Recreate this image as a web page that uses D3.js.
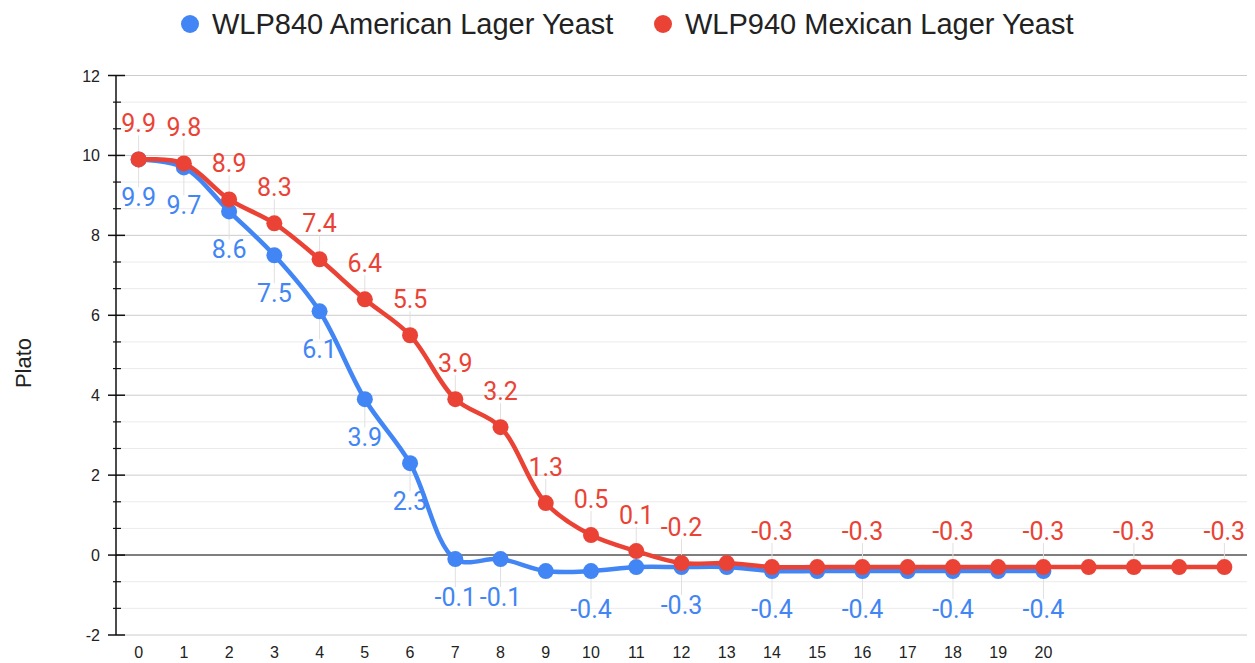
<!DOCTYPE html>
<html>
<head>
<meta charset="utf-8">
<script src="https://cdn.jsdelivr.net/npm/d3@7"></script>
<style>
  body { margin: 0; background: #fff; }
</style>
</head>
<body>
<script>
var days = d3.range(0, 25);
var blueName = 'WLP840 American Lager Yeast';
var redName = 'WLP940 Mexican Lager Yeast';
var blueValues = [9.9, 9.7, 8.6, 7.5, 6.1, 3.9, 2.3, -0.1, -0.1, -0.4, -0.4, -0.3, -0.3, -0.3,
                  -0.4, -0.4, -0.4, -0.4, -0.4, -0.4, -0.4];
var redValues = [9.9, 9.8, 8.9, 8.3, 7.4, 6.4, 5.5, 3.9, 3.2, 1.3, 0.5, 0.1, -0.2, -0.2,
                 -0.3, -0.3, -0.3, -0.3, -0.3, -0.3, -0.3, -0.3, -0.3, -0.3, -0.3];
// which points carry a value label
var blueLabelIdx = [0, 1, 2, 3, 4, 5, 6, 7, 8, 10, 12, 14, 16, 18, 20];
var redLabelIdx = [0, 1, 2, 3, 4, 5, 6, 7, 8, 9, 10, 11, 12, 14, 16, 18, 20, 22, 24];
var xTickLabels = d3.range(0, 21);
var yMajorTicks = [-2, 0, 2, 4, 6, 8, 10, 12];

var blueColor = '#4285F4', redColor = '#EA4335';
var sans = '"Liberation Sans", Arial, sans-serif';
var labelFont = 'Roboto, sans-serif';

var width = 1255, height = 663;

var svg = d3.select('body').append('svg')
    .attr('width', width)
    .attr('height', height);

var x = d3.scaleLinear().domain([-0.5, 24.5]).range([116, 1247]);
var y = d3.scaleLinear().domain([-2, 12]).range([635, 75.5]);

var yMinorTicks = [];
yMajorTicks.slice(0, -1).forEach(function(t) {
  yMinorTicks.push(t + 2 / 3, t + 4 / 3);
});

// gridlines
var grid = svg.append('g').attr('class', 'grid');
grid.selectAll('line.minor')
    .data(yMinorTicks)
  .enter().append('line')
    .attr('class', 'minor')
    .attr('x1', x.range()[0]).attr('x2', x.range()[1])
    .attr('y1', y).attr('y2', y)
    .attr('stroke', '#ebebeb').attr('stroke-width', 1);
grid.selectAll('line.major')
    .data(yMajorTicks)
  .enter().append('line')
    .attr('class', 'major')
    .attr('x1', x.range()[0]).attr('x2', x.range()[1])
    .attr('y1', y).attr('y2', y)
    .attr('stroke', function(d) { return d === 0 ? '#555' : '#cccccc'; })
    .attr('stroke-width', function(d) { return d === 0 ? 1.5 : 1; });

// y axis
var yAxis = svg.append('g').attr('class', 'y-axis');
yAxis.append('line')
    .attr('x1', 116).attr('x2', 116)
    .attr('y1', y(12)).attr('y2', y(-2))
    .attr('stroke', '#111').attr('stroke-width', 1.5);
yAxis.selectAll('line.tick-major')
    .data(yMajorTicks)
  .enter().append('line')
    .attr('class', 'tick-major')
    .attr('x1', 108).attr('x2', 125)
    .attr('y1', y).attr('y2', y)
    .attr('stroke', '#111').attr('stroke-width', 1.5);
yAxis.selectAll('line.tick-minor')
    .data(yMinorTicks)
  .enter().append('line')
    .attr('class', 'tick-minor')
    .attr('x1', 113).attr('x2', 121)
    .attr('y1', y).attr('y2', y)
    .attr('stroke', '#111').attr('stroke-width', 1.2);
yAxis.selectAll('text')
    .data(yMajorTicks)
  .enter().append('text')
    .attr('x', 100)
    .attr('y', function(d) { return y(d) + 6; })
    .attr('text-anchor', 'end')
    .style('font-family', sans)
    .attr('font-size', 16)
    .attr('fill', '#222')
    .text(function(d) { return d; });

svg.append('text')
    .attr('transform', 'translate(31,363) rotate(-90)')
    .attr('text-anchor', 'middle')
    .style('font-family', sans)
    .attr('font-size', 22)
    .attr('fill', '#222')
    .text('Plato');

// x tick labels
svg.append('g').selectAll('text')
    .data(xTickLabels)
  .enter().append('text')
    .attr('x', x)
    .attr('y', 658)
    .attr('text-anchor', 'middle')
    .style('font-family', sans)
    .attr('font-size', 16)
    .attr('fill', '#222')
    .text(function(d) { return d; });

// label stems
var stems = svg.append('g').attr('class', 'stems');
stems.selectAll('line.red')
    .data(redLabelIdx)
  .enter().append('line')
    .attr('x1', function(i) { return x(i); }).attr('x2', function(i) { return x(i); })
    .attr('y1', function(i) { return y(redValues[i]) - 24; })
    .attr('y2', function(i) { return y(redValues[i]); })
    .attr('stroke', '#e0e0e0');
stems.selectAll('line.blue')
    .data(blueLabelIdx)
  .enter().append('line')
    .attr('x1', function(i) { return x(i); }).attr('x2', function(i) { return x(i); })
    .attr('y1', function(i) { return y(blueValues[i]); })
    .attr('y2', function(i) { return y(blueValues[i]) + 28; })
    .attr('stroke', '#e0e0e0');

var line = d3.line()
    .x(function(d, i) { return x(i); })
    .y(function(d) { return y(d); })
    .curve(d3.curveCatmullRom.alpha(0.5));

function drawSeries(values, color) {
  svg.append('path')
      .datum(values)
      .attr('fill', 'none')
      .attr('stroke', color)
      .attr('stroke-width', 4.5)
      .attr('stroke-linejoin', 'round')
      .attr('d', line);
  svg.append('g').selectAll('circle')
      .data(values)
    .enter().append('circle')
      .attr('cx', function(d, i) { return x(i); })
      .attr('cy', y)
      .attr('r', 8)
      .attr('fill', color);
}

drawSeries(blueValues, blueColor);
drawSeries(redValues, redColor);

// value labels
svg.append('g').selectAll('text')
    .data(blueLabelIdx)
  .enter().append('text')
    .attr('x', function(i) { return x(i); })
    .attr('y', function(i) { return y(blueValues[i]) + 47; })
    .attr('text-anchor', 'middle')
    .style('font-family', labelFont)
    .attr('font-size', 25)
    .attr('fill', blueColor)
    .text(function(i) { return blueValues[i].toFixed(1); });
svg.append('g').selectAll('text')
    .data(redLabelIdx)
  .enter().append('text')
    .attr('x', function(i) { return x(i); })
    .attr('y', function(i) { return y(redValues[i]) - 27.5; })
    .attr('text-anchor', 'middle')
    .style('font-family', labelFont)
    .attr('font-size', 25)
    .attr('fill', redColor)
    .text(function(i) { return redValues[i].toFixed(1); });

// legend
var legend = svg.append('g').attr('class', 'legend');
[[blueName, blueColor, 190], [redName, redColor, 663]].forEach(function(d) {
  legend.append('circle')
      .attr('cx', d[2]).attr('cy', 24).attr('r', 9)
      .attr('fill', d[1]);
  legend.append('text')
      .attr('x', d[2] + 22).attr('y', 34)
      .style('font-family', sans)
      .attr('font-size', 29)
      .attr('fill', '#222')
      .text(d[0]);
});
</script>
</body>
</html>
